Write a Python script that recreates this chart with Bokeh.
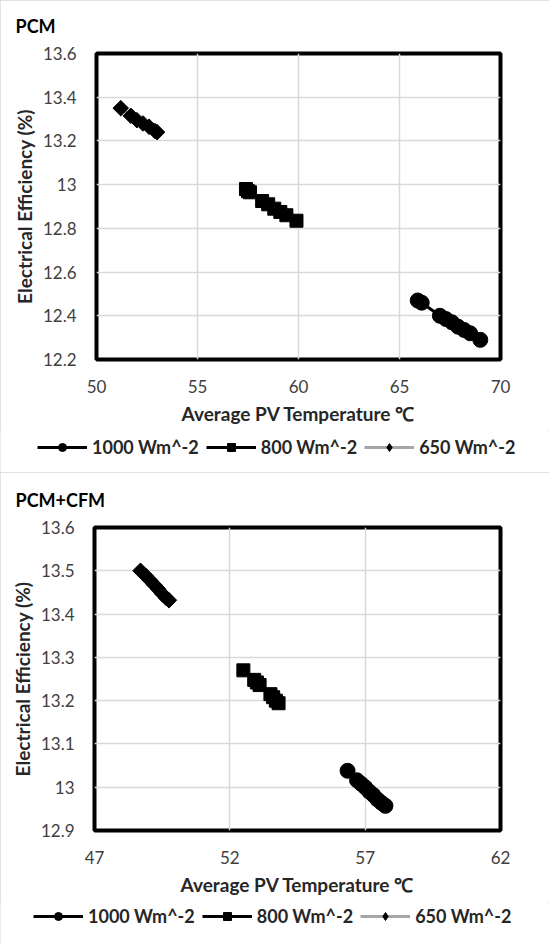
import math
from bokeh.plotting import figure
from bokeh.layouts import column
from bokeh.models import Range1d, FixedTicker, CustomJSTickFormatter, Legend, LegendItem
from bokeh.embed import file_html
from bokeh.resources import INLINE

# ---------------- data ----------------
series_labels = ["1000 Wm^-2", "800 Wm^-2", "650 Wm^-2"]

# Panel 1: PCM
pcm_x_1000 = [65.9, 66.1, 67.0, 67.3, 67.6, 67.9, 68.2, 68.5, 69.0]
pcm_y_1000 = [12.47, 12.46, 12.40, 12.385, 12.37, 12.35, 12.335, 12.32, 12.29]
pcm_x_800 = [57.4, 57.5, 57.6, 58.2, 58.5, 58.8, 59.1, 59.4, 59.9]
pcm_y_800 = [12.98, 12.97, 12.965, 12.925, 12.91, 12.89, 12.875, 12.86, 12.835]
pcm_x_650 = [51.2, 51.7, 52.0, 52.3, 52.6, 52.9, 53.0]
pcm_y_650 = [13.35, 13.315, 13.295, 13.28, 13.265, 13.245, 13.24]
pcm_x_ticks = [50, 55, 60, 65, 70]
pcm_y_ticks = [12.2, 12.4, 12.6, 12.8, 13.0, 13.2, 13.4, 13.6]

# Panel 2: PCM+CFM
cfm_x_1000 = [56.35, 56.7, 56.85, 57.0, 57.15, 57.3, 57.45, 57.6, 57.75]
cfm_y_1000 = [13.038, 13.016, 13.008, 13.0, 12.99, 12.982, 12.972, 12.964, 12.957]
cfm_x_800 = [52.5, 52.9, 53.0, 53.1, 53.5, 53.6, 53.7, 53.8]
cfm_y_800 = [13.27, 13.248, 13.242, 13.236, 13.215, 13.208, 13.2, 13.194]
cfm_x_650 = [48.7, 48.9, 49.05, 49.2, 49.35, 49.5, 49.65, 49.75]
cfm_y_650 = [13.50, 13.488, 13.478, 13.468, 13.458, 13.447, 13.437, 13.432]
cfm_x_ticks = [47, 52, 57, 62]
cfm_y_ticks = [12.9, 13.0, 13.1, 13.2, 13.3, 13.4, 13.5, 13.6]

FONT = "Lato"
TICK_COLOR = "#404040"
TEXT_COLOR = "#262626"
PLOT_H = 430
LEG_H = 42

# marker styles: (plot marker, size, angle, legend marker, legend size, line colour)
STYLES = [("circle", 15, 0.0, "circle", 12, "black"),
          ("square", 13, 0.0, "square", 10, "black"),
          ("square", 11, math.pi / 4, "diamond", 13, "#a6a6a6")]


def make_panel(title, xr, yr, xt, yt, data, borders, legend_loc):
    left, right, top, bottom = borders
    p = figure(width=549, height=PLOT_H, output_backend="svg", toolbar_location=None,
               x_range=Range1d(*xr), y_range=Range1d(*yr),
               min_border_left=left, min_border_right=right,
               min_border_top=top, min_border_bottom=bottom)
    p.frame_align = False
    p.title.text = title
    p.title.align = "left"
    p.title.vertical_align = "top"
    p.title.offset = -(left - 15)
    p.title.text_font = FONT
    p.title.text_font_size = "18px"
    p.title.text_font_style = "bold"
    p.title.text_color = "black"
    p.title.standoff = 29

    p.outline_line_color = "black"
    p.outline_line_width = 4
    p.outline_line_alpha = 1.0

    p.xaxis.ticker = FixedTicker(ticks=xt)
    p.yaxis.ticker = FixedTicker(ticks=yt)
    fmt = "return (Math.round(tick*10)/10).toString();"
    p.xaxis.formatter = CustomJSTickFormatter(code=fmt)
    p.yaxis.formatter = CustomJSTickFormatter(code=fmt)
    for ax in (p.xaxis, p.yaxis):
        ax.axis_line_color = None
        ax.major_tick_line_color = None
        ax.minor_tick_line_color = None
        ax.major_label_text_font = FONT
        ax.major_label_text_font_size = "17px"
        ax.major_label_text_color = TICK_COLOR
        ax.axis_label_text_font = FONT
        ax.axis_label_text_font_style = "bold"
        ax.axis_label_text_color = TEXT_COLOR
    p.xaxis.axis_label_text_font_size = "19px"
    p.yaxis.axis_label_text_font_size = "19px"
    p.xaxis.axis_label = "Average PV Temperature \u2103"
    p.yaxis.axis_label = "Electrical Efficiency (%)"
    p.xaxis.major_label_standoff = 14
    p.xaxis.axis_label_standoff = 6
    p.yaxis.major_label_standoff = 14
    p.yaxis.axis_label_standoff = 4

    p.xgrid.grid_line_color = "#d9d9d9"
    p.ygrid.grid_line_color = "#d9d9d9"
    p.xgrid.grid_line_width = 1.5
    p.ygrid.grid_line_width = 1.5

    # legend figure: its frame is the whole canvas, so the legend is not clipped
    lg = figure(width=549, height=LEG_H, output_backend="svg", toolbar_location=None,
                min_border=0, x_axis_type=None, y_axis_type=None,
                x_range=Range1d(0, 1), y_range=Range1d(0, 1))
    lg.frame_align = False
    lg.outline_line_color = None
    lg.xgrid.visible = False
    lg.ygrid.visible = False

    items = []
    for (xs, ys), (marker, size, angle, lmarker, lsize, line_color), label in zip(data, STYLES, series_labels):
        p.line(xs, ys, line_color=line_color, line_width=3)
        p.scatter(xs, ys, marker=marker, size=size, angle=angle,
                  fill_color="black", line_color="black")
        # legend proxies: same data and styles, lying outside the legend figure's ranges
        lr = lg.line(xs, ys, line_color=line_color, line_width=3)
        sr = lg.scatter(xs, ys, marker=lmarker, size=lsize,
                        fill_color="black", line_color="black")
        items.append(LegendItem(label=label, renderers=[lr, sr]))

    legend = Legend(items=items, orientation="horizontal", location=legend_loc)
    legend.label_text_font = FONT
    legend.label_text_font_size = "18px"
    legend.label_text_font_style = "bold"
    legend.label_text_color = TEXT_COLOR
    legend.glyph_width = 50
    legend.glyph_height = 20
    legend.label_standoff = 5
    legend.spacing = 7
    legend.padding = 0
    legend.margin = 0
    legend.border_line_color = None
    legend.background_fill_alpha = 0
    lg.add_layout(legend, "center")

    return column(p, lg, spacing=0,
                  styles={"outline": "2px solid #d9d9d9", "outline-offset": "-2px"})


panel1 = make_panel(
    "PCM", (50, 70), (12.2, 13.6), pcm_x_ticks, pcm_y_ticks,
    [(pcm_x_1000, pcm_y_1000), (pcm_x_800, pcm_y_800), (pcm_x_650, pcm_y_650)],
    (96, 49, 53, PLOT_H - 359), (37, 14))

panel2 = make_panel(
    "PCM+CFM", (47, 62), (12.9, 13.6), cfm_x_ticks, cfm_y_ticks,
    [(cfm_x_1000, cfm_y_1000), (cfm_x_800, cfm_y_800), (cfm_x_650, cfm_y_650)],
    (94, 49, 55, PLOT_H - 358), (33, 17))

layout = column(panel1, panel2, spacing=0)
open("out.html", "w").write(file_html(layout, INLINE))
